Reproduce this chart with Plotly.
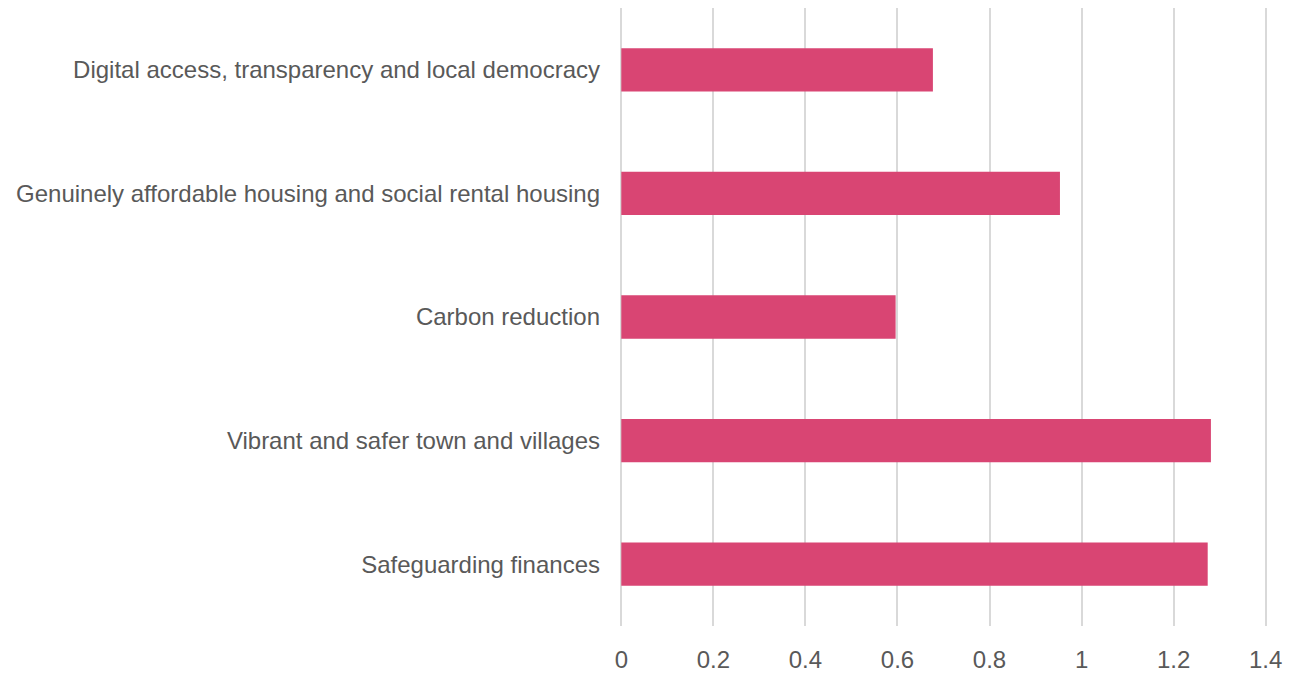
import plotly.graph_objects as go

categories = [
    "Safeguarding finances",
    "Vibrant and safer town and villages",
    "Carbon reduction",
    "Genuinely affordable housing and social rental housing",
    "Digital access, transparency and local democracy",
]
values = [1.274, 1.281, 0.596, 0.953, 0.677]
tick_vals = [0, 0.2, 0.4, 0.6, 0.8, 1.0, 1.2, 1.4]
tick_text = ["0", "0.2", "0.4", "0.6", "0.8", "1", "1.2", "1.4"]

fig = go.Figure(
    go.Bar(
        x=values,
        y=categories,
        orientation="h",
        marker=dict(color="#D94573", line=dict(width=0)),
        hoverinfo="x+y",
    )
)

font_family = "Liberation Sans, Arial, sans-serif"
fig.update_layout(
    width=1294,
    height=665,
    margin=dict(l=611, r=34, t=0, b=42),
    paper_bgcolor="white",
    plot_bgcolor="white",
    bargap=0.65,
    showlegend=False,
    font=dict(family=font_family, size=24, color="#595959"),
)
fig.update_xaxes(
    range=[-0.005, 1.405],
    tickvals=tick_vals,
    ticktext=tick_text,
    showgrid=True,
    gridcolor="#D9D9D9",
    gridwidth=1.5,
    zeroline=False,
    showline=False,
    ticks="",
    ticklabelstandoff=17,
    tickfont=dict(size=24, color="#595959"),
)
fig.update_yaxes(
    categoryorder="array",
    categoryarray=categories,
    showgrid=False,
    zeroline=False,
    showline=False,
    ticks="",
    ticklabelstandoff=18,
    tickfont=dict(size=24, color="#595959"),
)

fig.write_html("out.html")
